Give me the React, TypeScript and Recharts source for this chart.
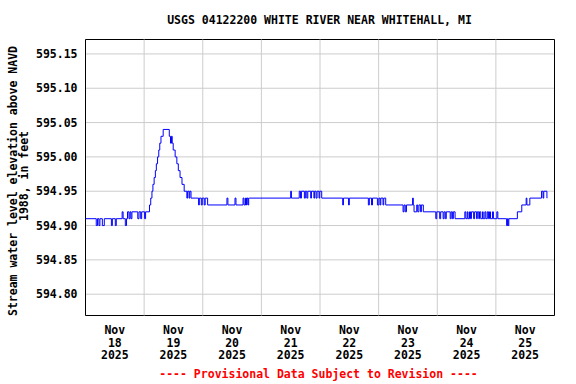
import React from 'react'
import {
  LineChart,
  Line,
  XAxis,
  YAxis,
  CartesianGrid,
  ReferenceLine,
  ReferenceArea,
} from 'recharts'

/** 15分値の変化点（Nov 18 00:00 からの経過時間 [h]） */
const STEP_HOURS = [
  0, 4.4, 4.9, 5.5, 5.9, 6.9, 7.7, 10.6, 11.0, 12.2, 12.6, 15.0, 15.4, 16.3, 16.8, 17.2, 17.8, 18.2,
  18.6, 19.0, 21.4, 21.9, 22.6, 23.0, 24.2, 24.6,
  26.2, 26.7, 27.2, 27.6, 28.1, 28.6, 29.0, 29.5, 30.0, 30.4, 30.9, 31.8,
  34.3, 34.8, 35.2, 35.5, 35.9, 36.7, 37.4, 38.0, 38.7, 39.5, 40.4, 41.5, 41.8, 42.4, 42.7, 43.2,
  46.3, 46.6, 47.4, 47.8, 48.6, 49.0, 50.0,
  57.9, 58.3, 61.2, 61.6, 64.5, 64.9, 65.5, 65.9, 66.1, 66.5, 66.8, 67.1,
  84.0, 84.3, 87.5, 88.0, 88.4, 89.6, 90.0, 90.6, 91.0, 92.2, 92.5, 93.5, 93.8, 94.4, 94.8, 95.6,
  95.9, 96.7,
  105.3, 105.6, 107.7, 108.0, 115.8, 116.2, 117.1, 117.5, 119.5, 120.1, 120.6, 120.9, 121.8, 122.1,
  122.9, 130.0, 130.4, 130.9, 131.4, 133.9, 134.2, 134.5, 135.6, 136.0, 136.5, 137.2, 137.5, 138.3,
  143.4, 143.8, 145.0, 145.4, 146.4, 146.8, 147.3, 147.7, 149.3, 149.7, 150.2, 150.6, 151.3,
  155.3, 155.7, 156.3, 156.6, 157.2, 157.6, 158.0, 158.9, 159.3, 160.1, 160.4, 161.0, 161.3, 161.8,
  162.5, 162.8, 163.5, 163.9, 164.5, 165.0, 165.4, 165.8, 166.6, 167.0, 168.4, 168.8,
  172.4, 172.8, 173.0, 173.3, 176.8, 178.6, 180.4, 180.7, 181.9, 186.7, 187.3, 187.6, 188.9, 189.0,
]

/** 各変化点の水位 [ft] */
const STEP_LEVELS = [
  594.91, 594.9, 594.91, 594.9, 594.91, 594.9, 594.91, 594.9, 594.91, 594.9, 594.91, 594.92, 594.91,
  594.9, 594.91, 594.92, 594.91, 594.92, 594.91, 594.92, 594.91, 594.92, 594.91, 594.92, 594.91,
  594.92,
  594.93, 594.94, 594.95, 594.96, 594.97, 594.98, 594.99, 595.0, 595.01, 595.02, 595.03, 595.04,
  595.03, 595.02, 595.03, 595.02, 595.01, 595.0, 594.99, 594.98, 594.97, 594.96, 594.95, 594.94,
  594.95, 594.94, 594.95, 594.94,
  594.93, 594.94, 594.93, 594.94, 594.93, 594.94, 594.93,
  594.94, 594.93, 594.94, 594.93, 594.94, 594.93, 594.94, 594.93, 594.94, 594.93, 594.94, 594.94,
  594.95, 594.94, 594.95, 594.94, 594.95, 594.94, 594.95, 594.94, 594.95, 594.94, 594.95, 594.94,
  594.95, 594.94, 594.95, 594.94, 594.95, 594.94,
  594.93, 594.94, 594.93, 594.94, 594.93, 594.94, 594.93, 594.94, 594.93, 594.94, 594.93, 594.94,
  594.93, 594.94,
  594.93, 594.92, 594.93, 594.92, 594.93, 594.94, 594.93, 594.92, 594.93, 594.92, 594.93, 594.92,
  594.93, 594.92,
  594.91, 594.92, 594.91, 594.92, 594.91, 594.92, 594.91, 594.92, 594.91, 594.92, 594.91, 594.92,
  594.91,
  594.92, 594.91, 594.92, 594.91, 594.92, 594.91, 594.92, 594.91, 594.92, 594.91, 594.92, 594.91,
  594.92, 594.91, 594.92, 594.91, 594.92, 594.91, 594.92, 594.91, 594.92, 594.91, 594.92, 594.91,
  594.92, 594.91,
  594.9, 594.91, 594.9, 594.91, 594.92, 594.93, 594.94, 594.93, 594.94, 594.95, 594.94, 594.95,
  594.94, 594.94,
]

const Y_TICKS = [594.8, 594.85, 594.9, 594.95, 595.0, 595.05, 595.1, 595.15]
const DAY_LINES = [24, 48, 72, 96, 120, 144, 168]
const LABEL_HOURS = [12, 36, 60, 84, 108, 132, 156, 180]
const FIRST_DAY = 18

const TITLE = 'USGS 04122200 WHITE RIVER NEAR WHITEHALL, MI'
const Y_LABEL_1 = 'Stream water level elevation above NAVD'
const Y_LABEL_2 = '1988, in feet'
const FOOTER = '---- Provisional Data Subject to Revision ----'

const FONT = '"DejaVu Sans Mono", "Liberation Mono", monospace'

const chartData = STEP_HOURS.map((h, i) => ({ h, level: STEP_LEVELS[i] }))

function DayTick({ x, y, payload }: any) {
  const day = FIRST_DAY + Math.floor(payload.value / 24)
  const common = {
    x,
    textAnchor: 'middle' as const,
    fontFamily: FONT,
    fontWeight: 'bold',
    fontSize: 11.5,
    fill: '#000',
  }
  return (
    <g>
      <text {...common} y={y + 18.5}>Nov</text>
      <text {...common} y={y + 31.2}>{day}</text>
      <text {...common} y={y + 43.8}>2025</text>
    </g>
  )
}

export default function App() {
  return (
    <div style={{ position: 'absolute', left: 0, top: 0, width: 576, height: 384, background: '#fff' }}>
      <LineChart
        width={576}
        height={384}
        data={chartData}
        margin={{ top: 39.5, right: 21.5, bottom: 8.5, left: 0 }}
      >
        <CartesianGrid vertical={false} stroke="#cccccc" strokeWidth={1} />
        <XAxis
          dataKey="h"
          type="number"
          domain={[0, 192]}
          ticks={LABEL_HOURS}
          tick={<DayTick />}
          tickLine={false}
          axisLine={false}
          tickSize={0}
          tickMargin={0}
          height={60}
          interval={0}
        />
        <YAxis
          type="number"
          domain={[594.769, 595.171]}
          ticks={Y_TICKS}
          tickFormatter={(v: number) => v.toFixed(2)}
          tick={{ fontFamily: FONT, fontWeight: 'bold', fontSize: 11.5, fill: '#000' }}
          tickLine={false}
          axisLine={false}
          tickSize={0}
          tickMargin={8}
          width={85.5}
          interval={0}
          allowDataOverflow
        />
        {DAY_LINES.map((h) => (
          <ReferenceLine key={h} x={h} stroke="#cccccc" strokeWidth={1} />
        ))}
        <Line
          type="stepAfter"
          dataKey="level"
          stroke="#0000ff"
          strokeWidth={1}
          dot={false}
          isAnimationActive={false}
        />
        <ReferenceArea
          x1={0}
          x2={192}
          y1={594.769}
          y2={595.171}
          fill="none"
          fillOpacity={0}
          stroke="#000"
          strokeWidth={1}
        />
      </LineChart>
      <svg
        width={576}
        height={384}
        style={{ position: 'absolute', left: 0, top: 0, pointerEvents: 'none' }}
      >
        <text
          x={319.5}
          y={24}
          textAnchor="middle"
          fontFamily={FONT}
          fontWeight="bold"
          fontSize={11.5}
          fill="#000"
        >
          {TITLE}
        </text>
        <text
          transform="translate(16.5,181) rotate(-90)"
          textAnchor="middle"
          fontFamily={FONT}
          fontWeight="bold"
          fontSize={11.5}
          fill="#000"
        >
          {Y_LABEL_1}
        </text>
        <text
          transform="translate(28,176) rotate(-90)"
          textAnchor="middle"
          fontFamily={FONT}
          fontWeight="bold"
          fontSize={11.5}
          fill="#000"
        >
          {Y_LABEL_2}
        </text>
        <text
          x={318.5}
          y={378}
          textAnchor="middle"
          fontFamily={FONT}
          fontWeight="bold"
          fontSize={11.5}
          fill="#ff0000"
        >
          {FOOTER}
        </text>
      </svg>
    </div>
  )
}
